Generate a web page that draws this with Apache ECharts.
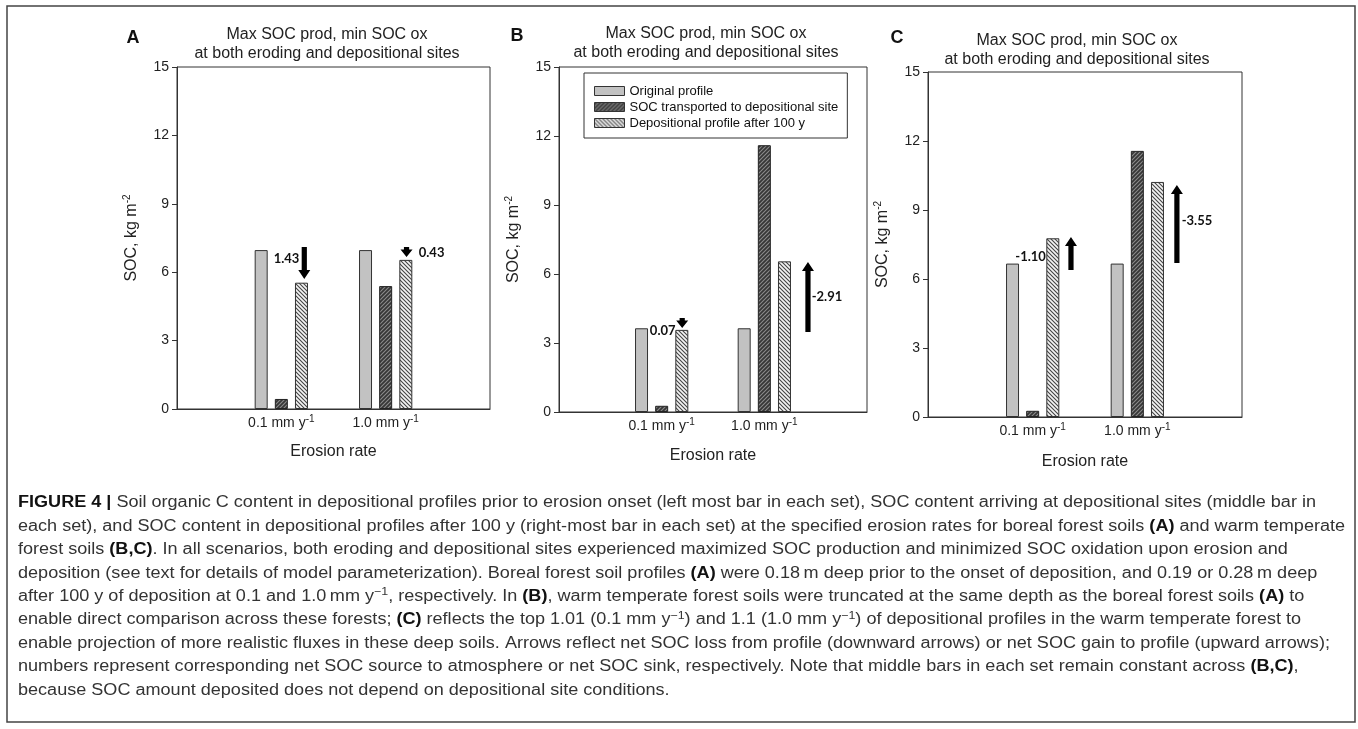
<!DOCTYPE html>
<html>
<head>
<meta charset="utf-8">
<script src="https://cdn.jsdelivr.net/npm/echarts@6/dist/echarts.min.js"></script>
<style>
html, body { margin: 0; background: #fff; }
#chart { width: 1358px; height: 729px; }
</style>
</head>
<body>
<div id="chart"></div>
<script>
// categories
var rates = ['0.1 mm y', '1.0 mm y'];
var seriesNames = ['Original profile', 'SOC transported to depositional site', 'Depositional profile after 100 y'];

// panel A - boreal forest
var originalA = [6.97, 6.97];
var transportedA = [0.44, 5.39];
var afterA = [5.54, 6.54];
var netA = ['1.43', '0.43'];
// arrows: [x on the 0-3 axis, tail value, head value]
var arrowsA = [[1.22, 7.1, 5.7], [2.2, 7.1, 6.67]];
var netPosA = [[1.05, 6.58], [2.44, 6.84]];

// panel B - warm temperate, truncated
var originalB = [3.64, 3.64];
var transportedB = [0.27, 11.6];
var afterB = [3.57, 6.55];
var netB = ['0.07', '-2.91'];
var arrowsB = [[1.2, 4.09, 3.65], [2.425, 3.48, 6.52]];
var netPosB = [[1.01, 3.53], [2.61, 5.0]];

// panel C - warm temperate, full depth
var originalC = [6.67, 6.67];
var transportedC = [0.27, 11.57];
var afterC = [7.77, 10.22];
var netC = ['-1.10', '-3.55'];
var arrowsC = [[1.366, 6.39, 7.83], [2.378, 6.7, 10.09]];
var netPosC = [[0.98, 6.97], [2.57, 8.52]];

var yTicks = [0, 15, 3]; // min, max, step

var captionLines = [
    '{b|FIGURE 4 |} Soil organic C content in depositional profiles prior to erosion onset (left most bar in each set), SOC content arriving at depositional sites (middle bar in',
    'each set), and SOC content in depositional profiles after 100 y (right-most bar in each set) at the specified erosion rates for boreal forest soils {b|(A)} and warm temperate',
    'forest soils {b|(B,C)}. In all scenarios, both eroding and depositional sites experienced maximized SOC production and minimized SOC oxidation upon erosion and',
    'deposition (see text for details of model parameterization). Boreal forest soil profiles {b|(A)} were 0.18\u2009m deep prior to the onset of deposition, and 0.19 or 0.28\u2009m deep',
    'after 100 y of deposition at 0.1 and 1.0\u2009mm y{sup|\u22121}, respectively. In {b|(B)}, warm temperate forest soils were truncated at the same depth as the boreal forest soils {b|(A)} to',
    'enable direct comparison across these forests; {b|(C)} reflects the top 1.01 (0.1 mm y{sup|\u22121}) and 1.1 (1.0 mm y{sup|\u22121}) of depositional profiles in the warm temperate forest to',
    'enable projection of more realistic fluxes in these deep soils. Arrows reflect net SOC loss from profile (downward arrows) or net SOC gain to profile (upward arrows);',
    'numbers represent corresponding net SOC source to atmosphere or net SOC sink, respectively. Note that middle bars in each set remain constant across {b|(B,C)},',
    'because SOC amount deposited does not depend on depositional site conditions.'
];

var FONT = '"Liberation Sans", Arial, sans-serif';

// hatch fills
function hatch(bg, fg, forward) {
    var s = 4;
    var c = document.createElement('canvas');
    c.width = s; c.height = s;
    var ctx = c.getContext('2d');
    ctx.fillStyle = bg;
    ctx.fillRect(0, 0, s, s);
    ctx.strokeStyle = fg;
    ctx.lineWidth = 1.1;
    ctx.beginPath();
    if (forward) {
        ctx.moveTo(-1, s + 1); ctx.lineTo(s + 1, -1);
        ctx.moveTo(-1, 1); ctx.lineTo(1, -1);
        ctx.moveTo(s - 1, s + 1); ctx.lineTo(s + 1, s - 1);
    } else {
        ctx.moveTo(-1, -1); ctx.lineTo(s + 1, s + 1);
        ctx.moveTo(s - 1, -1); ctx.lineTo(s + 1, 1);
        ctx.moveTo(-1, s - 1); ctx.lineTo(1, s + 1);
    }
    ctx.stroke();
    return { image: c, repeat: 'repeat' };
}

var barStyles = [
    { color: '#c2c2c2', borderColor: '#333', borderWidth: 1 },
    { color: hatch('#363636', '#8c8c8c', true), borderColor: '#222', borderWidth: 1 },
    { color: hatch('#f4f4f4', '#444', false), borderColor: '#333', borderWidth: 1 }
];

var panels = [
    { grid: { left: 177, top: 67, width: 313, height: 342 }, bars: [originalA, transportedA, afterA], net: netA, arrows: arrowsA, netPos: netPosA, nameGap: 35 },
    { grid: { left: 559, top: 67, width: 308, height: 345 }, bars: [originalB, transportedB, afterB], net: netB, arrows: arrowsB, netPos: netPosB, nameGap: 36 },
    { grid: { left: 928, top: 72, width: 314, height: 345 }, bars: [originalC, transportedC, afterC], net: netC, arrows: arrowsC, netPos: netPosC, nameGap: 37 }
];

// arrow + number drawn in data coordinates
function arrowRenderer(labels) {
    return function (params, api) {
        var tail = api.coord([api.value(0), api.value(1)]);
        var head = api.coord([api.value(0), api.value(2)]);
        var lbl = api.coord([api.value(3), api.value(4)]);
        var dir = head[1] > tail[1] ? 1 : -1;
        var len = Math.abs(head[1] - tail[1]);
        var hl = Math.min(9, len * 0.75), hw = 6, sw = 2.6;
        var x = tail[0];
        var baseY = head[1] - dir * hl;
        var pts = [[x - sw, tail[1]], [x + sw, tail[1]], [x + sw, baseY], [x + hw, baseY],
            [x, head[1]], [x - hw, baseY], [x - sw, baseY]];
        return {
            type: 'group',
            children: [
                { type: 'polygon', shape: { points: pts }, style: { fill: '#000' } },
                {
                    type: 'text', x: lbl[0], y: lbl[1],
                    style: {
                        text: labels[params.dataIndex], fill: '#111',
                        fontSize: 13, fontWeight: 'bold', fontFamily: 'Lato, "Open Sans", sans-serif',
                        align: 'center', verticalAlign: 'middle', textAlign: 'center', textVerticalAlign: 'middle'
                    }
                }
            ]
        };
    };
}

var grids = [], xAxes = [], yAxes = [], series = [], graphics = [];

panels.forEach(function (p, i) {
    grids.push(Object.assign({ show: true, borderColor: '#333', borderWidth: 1, containLabel: false, outerBoundsMode: 'none' }, p.grid));
    xAxes.push({
        type: 'category', gridIndex: i, boundaryGap: false,
        data: [' '].concat(rates).concat(['  ']),
        axisLine: { lineStyle: { color: '#333' } },
        axisTick: { show: false },
        axisLabel: {
            interval: 0, margin: 5, color: '#222',
            formatter: function (v) { return v.trim() ? '{n|' + v + '}{sup|-1}' : ''; },
            rich: {
                n: { fontSize: 14, fontFamily: FONT, color: '#222', lineHeight: 18 },
                sup: { fontSize: 10, fontFamily: FONT, color: '#222', lineHeight: 10, verticalAlign: 'top' }
            }
        },
        name: 'Erosion rate', nameLocation: 'middle', nameGap: p.nameGap,
        nameTextStyle: { fontSize: 16, fontFamily: FONT, color: '#222' }
    });
    xAxes.push({ type: 'value', gridIndex: i, min: 0, max: 3, show: false });
    yAxes.push({
        type: 'value', gridIndex: i, min: yTicks[0], max: yTicks[1], interval: yTicks[2],
        splitLine: { show: false },
        axisLine: { show: true, lineStyle: { color: '#333' } },
        axisTick: { show: true, length: 5, lineStyle: { color: '#333' } },
        axisLabel: { fontSize: 14, fontFamily: FONT, color: '#222', margin: 8 },
        name: 'SOC, kg m{sup|-2}', nameLocation: 'middle', nameGap: 35,
        nameTextStyle: {
            fontSize: 16, fontFamily: FONT, color: '#222', lineHeight: 20,
            rich: { sup: { fontSize: 10, fontFamily: FONT, color: '#222', lineHeight: 10, verticalAlign: 'top' } }
        }
    });
    p.bars.forEach(function (vals, k) {
        series.push({
            type: 'bar', name: seriesNames[k],
            xAxisIndex: 2 * i, yAxisIndex: i,
            data: [null].concat(vals).concat([null]),
            barWidth: 13, barGap: '55%',
            itemStyle: barStyles[k],
            silent: true
        });
    });
    series.push({
        type: 'custom', xAxisIndex: 2 * i + 1, yAxisIndex: i,
        data: p.arrows.map(function (a, k) { return a.concat(p.netPos[k]); }),
        renderItem: arrowRenderer(p.net),
        clip: false, silent: true, z: 5
    });
});

// panel letters and titles
var letters = [['A', 133, 38], ['B', 517, 36], ['C', 897, 38]];
var titleCenters = [[327, 44], [706, 43], [1077, 50]];
letters.forEach(function (l, i) {
    graphics.push({
        type: 'text', x: l[1], y: l[2],
        style: { text: l[0], fontSize: 18, fontWeight: 'bold', fontFamily: FONT, fill: '#111',
            align: 'center', verticalAlign: 'middle', textAlign: 'center', textVerticalAlign: 'middle' }
    });
    graphics.push({
        type: 'text', x: titleCenters[i][0], y: titleCenters[i][1],
        style: { text: 'Max SOC prod, min SOC ox\nat both eroding and depositional sites',
            fontSize: 16, fontFamily: FONT, fill: '#222', lineHeight: 19,
            align: 'center', verticalAlign: 'middle', textAlign: 'center', textVerticalAlign: 'middle' }
    });
});

// caption, squeezed to the condensed width of the original
function measureRich(str) {
    var ctx = document.createElement('canvas').getContext('2d');
    var re = /\{(\w+)\|([^}]*)\}|([^{]+)/g, m, w = 0;
    while ((m = re.exec(str))) {
        if (m[3]) { ctx.font = '16px ' + FONT; w += ctx.measureText(m[3]).width; }
        else if (m[1] === 'b') { ctx.font = 'bold 16px ' + FONT; w += ctx.measureText(m[2]).width; }
        else { ctx.font = '11px ' + FONT; w += ctx.measureText(m[2]).width; }
    }
    return w;
}
var capScale = 1298 / measureRich(captionLines[0]);
captionLines.forEach(function (line, i) {
    graphics.push({
        type: 'text', x: 18, y: 503 + i * 23.4, scaleX: capScale,
        style: {
            text: line, fontSize: 16, fontFamily: FONT, fill: '#333', lineHeight: 20,
            verticalAlign: 'middle', textVerticalAlign: 'middle',
            rich: {
                b: { fontSize: 16, fontFamily: FONT, fontWeight: 'bold', fill: '#111', color: '#111' },
                sup: { fontSize: 11, fontFamily: FONT, fill: '#333', color: '#333', lineHeight: 11, verticalAlign: 'top' }
            }
        }
    });
});

// outer frame
graphics.push({
    type: 'rect', z: -1,
    shape: { x: 7, y: 6, width: 1348, height: 716 },
    style: { fill: 'none', stroke: '#444', lineWidth: 1.5 }
});

var myChart = echarts.init(document.getElementById('chart'));
myChart.setOption({
    backgroundColor: '#fff',
    animation: false,
    textStyle: { fontFamily: FONT },
    grid: grids,
    xAxis: xAxes,
    yAxis: yAxes,
    legend: {
        data: seriesNames, orient: 'vertical', left: 584, top: 73,
        padding: [10, 9, 7, 10], itemGap: 0, itemWidth: 30, itemHeight: 9,
        icon: 'rect', selectedMode: false,
        backgroundColor: '#fff', borderColor: '#333', borderWidth: 1,
        itemStyle: { borderColor: '#333', borderWidth: 1 },
        textStyle: { fontSize: 13, fontFamily: FONT, color: '#111', lineHeight: 16 }
    },
    series: series,
    graphic: graphics
});

window.onresize = function () { myChart.resize(); };
</script>
</body>
</html>
